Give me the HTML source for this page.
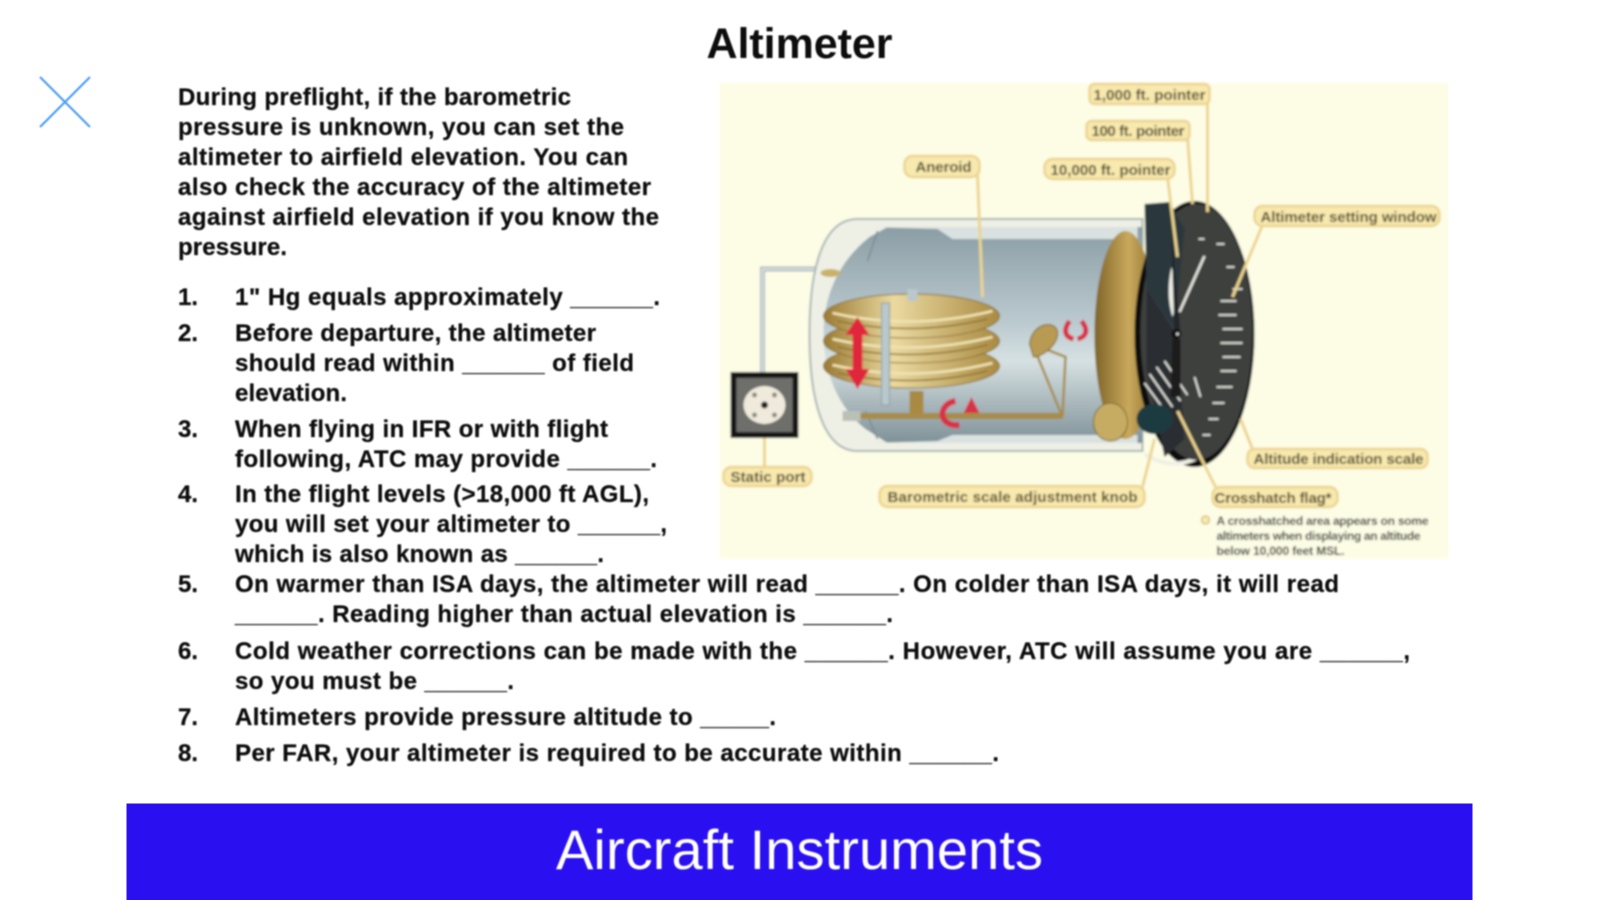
<!DOCTYPE html>
<html><head><meta charset="utf-8"><title>Altimeter</title>
<style>html,body{margin:0;padding:0;background:#fff;width:1599px;height:900px;overflow:hidden}svg{display:block}
.t text{font-family:"Liberation Sans",sans-serif;font-weight:bold;font-size:24px;fill:#0c0c0c;stroke:#0c0c0c;stroke-width:.25}
.l{fill:#f8e9ae;stroke:#ecd48e;stroke-width:2.5}
.lt{font-family:"Liberation Sans",sans-serif;font-size:15px;fill:#4c4226;font-weight:bold}
.ld{fill:none;stroke:#ecd48e;stroke-width:3}
</style></head><body>
<svg width="1599" height="900" viewBox="0 0 1599 900" xmlns="http://www.w3.org/2000/svg">
<defs>
<filter id="b" x="-5%" y="-5%" width="110%" height="110%"><feGaussianBlur stdDeviation="0.9"/></filter>
<filter id="b2" x="-5%" y="-5%" width="110%" height="110%"><feGaussianBlur stdDeviation="1.1"/></filter>
<linearGradient id="cyl" x1="0" y1="0" x2="0" y2="1"><stop offset="0" stop-color="#8b9da5"/><stop offset=".45" stop-color="#bccbd0"/><stop offset=".62" stop-color="#d6e1e2"/><stop offset="1" stop-color="#7f9198"/></linearGradient>
<linearGradient id="gold" x1="0" y1="0" x2="1" y2="0"><stop offset="0" stop-color="#9a7a32"/><stop offset=".4" stop-color="#ead9a0"/><stop offset="1" stop-color="#a98a42"/></linearGradient>
<linearGradient id="disk" x1="0" y1="0" x2="1" y2="0"><stop offset="0" stop-color="#7e6428"/><stop offset=".55" stop-color="#c9a95c"/><stop offset="1" stop-color="#8a6e2e"/></linearGradient>
</defs>

<g filter="url(#b)">
<text x="706.5" y="58" font-family="Liberation Sans" font-weight="bold" font-size="43" fill="#111" textLength="186">Altimeter</text>
<path d="M40 77L90 127M90 77L40 127" stroke="#4a9bf5" stroke-width="2" fill="none"/>
</g>

<g class="t" filter="url(#b)" transform="translate(-1,0)">
<text x="179" y="105" textLength="393">During preflight, if the barometric</text>
<text x="179" y="135" textLength="446">pressure is unknown, you can set the</text>
<text x="179" y="165" textLength="450">altimeter to airfield elevation. You can</text>
<text x="179" y="195" textLength="473">also check the accuracy of the altimeter</text>
<text x="179" y="225" textLength="481">against airfield elevation if you know the</text>
<text x="179" y="255" textLength="109">pressure.</text>

<text x="179" y="305">1.</text><text x="236" y="305" textLength="425">1&quot; Hg equals approximately ______.</text>
<text x="179" y="341">2.</text><text x="236" y="341" textLength="361">Before departure, the altimeter</text>
<text x="236" y="371" textLength="399">should read within ______ of field</text>
<text x="236" y="401" textLength="112">elevation.</text>
<text x="179" y="437">3.</text><text x="236" y="437" textLength="373">When flying in IFR or with flight</text>
<text x="236" y="467" textLength="422">following, ATC may provide ______.</text>
<text x="179" y="502">4.</text><text x="236" y="502" textLength="414">In the flight levels (&gt;18,000 ft AGL),</text>
<text x="236" y="532" textLength="432">you will set your altimeter to ______,</text>
<text x="236" y="562" textLength="369">which is also known as ______.</text>
<text x="179" y="592">5.</text><text x="236" y="592" textLength="1104">On warmer than ISA days, the altimeter will read ______. On colder than ISA days, it will read</text>
<text x="236" y="622" textLength="658">______. Reading higher than actual elevation is ______.</text>
<text x="179" y="659">6.</text><text x="236" y="659" textLength="1175">Cold weather corrections can be made with the ______. However, ATC will assume you are ______,</text>
<text x="236" y="689" textLength="279">so you must be ______.</text>
<text x="179" y="725">7.</text><text x="236" y="725" textLength="541">Altimeters provide pressure altitude to _____.</text>
<text x="179" y="761">8.</text><text x="236" y="761" textLength="764">Per FAR, your altimeter is required to be accurate within ______.</text>
</g>

<rect x="126.5" y="803.5" width="1346" height="96.5" fill="#2a0ff0"/>
<text x="556" y="869" font-family="Liberation Sans" font-size="56" fill="#fff" textLength="487" filter="url(#b)">Aircraft Instruments</text>

<g filter="url(#b2)" transform="translate(-2.5,-1)">
<rect x="722" y="84" width="729" height="476" fill="#fdfde6"/>

<!-- pipe -->
<path d="M765 375V270H818" fill="none" stroke="#a9b9bc" stroke-width="5"/>
<path d="M765 375V270H818" fill="none" stroke="#e6eced" stroke-width="1.5"/>

<!-- cylinder -->
<path d="M1145 220H860C828 220 812 262 812 335S828 452 860 452H1145Z" fill="#eef0e6" stroke="#a8b4b0" stroke-width="2"/>
<path d="M1145 228H890L872 238C842 262 826 295 826 335S842 410 868 430L890 444H1145Z" fill="url(#cyl)"/>
<path d="M868 228H1140V240H955L940 230ZM868 444H1140V436H955L940 442Z" fill="#d9e2e0"/>
<path d="M880 232L870 262M880 440L868 412" stroke="#7c8d92" stroke-width="1.5" fill="none"/>
<ellipse cx="833" cy="274" rx="10" ry="4" fill="#c8b26a"/>

<!-- aneroid -->
<g stroke="#8a6f30" stroke-width="1">
<ellipse cx="914" cy="367" rx="88" ry="22" fill="url(#gold)"/>
<ellipse cx="914" cy="342" rx="88" ry="22" fill="url(#gold)"/>
<ellipse cx="914" cy="317" rx="88" ry="22" fill="url(#gold)"/>
</g>
<g fill="none" stroke="#f0e4b4" stroke-width="2.5"><path d="M835 314Q914 332 995 312M835 340Q914 358 995 338M835 366Q914 384 995 364"/></g>
<g fill="none" stroke="#8f7434" stroke-width="1.5"><path d="M840 322Q914 338 990 320M840 348Q914 364 990 346M840 374Q914 390 990 372"/></g>
<rect x="884" y="304" width="8" height="102" fill="#b9c8cc" stroke="#8d9da1"/>
<rect x="912" y="392" width="14" height="22" fill="#a98a42"/>
<rect x="910" y="290" width="10" height="12" fill="#b9c8cc"/>
<path d="M860 318L848 336H855V370H848L860 390L872 370H865V336H872Z" fill="#e0263e"/>

<!-- rod & mechanism -->
<rect x="845" y="414" width="220" height="6" fill="#a88c46"/>
<rect x="845" y="412" width="18" height="10" fill="#b9c0b8"/>
<path d="M1035 345L1065 418L1068 358Z" stroke="#a88c46" stroke-width="2.5" fill="none"/>
<path d="M1032 345C1034 325 1056 320 1060 332C1062 345 1045 358 1036 358Z" fill="#b89a52" stroke="#7d6428"/>

<!-- red arrows -->
<path d="M958 402C940 405 940 428 962 426" fill="none" stroke="#d8324a" stroke-width="6"/>
<path d="M974 398L982 414H966Z" fill="#d8324a"/>
<path d="M1072 322C1065 332 1068 338 1076 340M1084 322C1092 332 1088 338 1080 340" fill="none" stroke="#d8324a" stroke-width="5"/>

<!-- gold disk -->
<ellipse cx="1128" cy="336" rx="31" ry="104" fill="url(#disk)"/>
<ellipse cx="1146" cy="336" rx="8" ry="38" fill="#eef2ee"/>

<ellipse cx="1113" cy="423" rx="17" ry="19" fill="#c6ac62" stroke="#7d6428"/>

<!-- dial -->
<g transform="translate(-3,0)">
<ellipse cx="1200" cy="335" rx="60" ry="133" fill="#111"/>
<path d="M1150 455Q1190 480 1225 440" stroke="#f0f0e6" stroke-width="4" fill="none"/>
<ellipse cx="1202" cy="333" rx="56" ry="128" fill="#3e3f3e"/>
<path d="M1150 205L1175 203L1190 230L1180 330L1152 290Z" fill="#2b383c"/>
<path d="M1152 290L1182 335L1190 440L1170 458L1152 370Z" fill="#2a2f30"/>
<g stroke="#e8e8e0" stroke-width="1.8" fill="none">
<path d="M1210 257L1185 313" stroke-width="2.5"/>
<path d="M1155 375L1178 408M1162 368L1186 402M1170 362L1193 396M1150 384L1172 414"/>
<path d="M1222 245h8M1232 268h8M1238 290h10M1226 302h16M1224 316h18M1228 330h20M1226 344h22M1228 358h18M1226 372h16M1222 388h16M1218 404h12M1214 420h10M1208 436h8M1204 240h6"/>
<path d="M1200 378L1206 398"/>
</g>
<path d="M1177 268Q1171 295 1178 318Q1186 295 1177 268Z" fill="#eef0e8"/>
<path d="M1176 215L1180 335L1186 335Z" fill="#23282a"/>
<path d="M1178 340L1176 398L1186 398L1186 340Z" fill="#1b1d1d"/>
<circle cx="1182" cy="335" r="5" fill="#111"/><circle cx="1183" cy="335" r="1.5" fill="#ddd"/>
<ellipse cx="1160" cy="420" rx="18" ry="15" fill="#1f3a40"/>
</g>

<!-- static port -->
<rect x="733" y="373" width="68" height="66" fill="#151515"/>
<rect x="739" y="379" width="56" height="54" fill="#6e6e6a"/>
<ellipse cx="767" cy="406" rx="21" ry="19" fill="#efeadb"/>
<circle cx="767" cy="406" r="3.5" fill="#222"/>
<g fill="#8e8a7c"><circle cx="757" cy="396" r="2.5"/><circle cx="777" cy="396" r="2.5"/><circle cx="757" cy="416" r="2.5"/><circle cx="777" cy="416" r="2.5"/></g>

<!-- leaders -->
<path class="ld" d="M1210 100V213M1190 138L1195 205M1170 178L1180 258M980 176L985 298M1265 226L1235 298M1255 450L1243 420M1218 488L1205 462L1180 412M1145 488L1157 440M767 468V439"/>

<!-- labels -->
<rect class="l" x="1092" y="85" width="120" height="20" rx="5"/><text class="lt" x="1096" y="101" textLength="112">1,000 ft. pointer</text>
<rect class="l" x="1089" y="122" width="103" height="19" rx="5"/><text class="lt" x="1094" y="137" textLength="93">100 ft. pointer</text>
<rect class="l" x="1047" y="160" width="130" height="20" rx="8"/><text class="lt" x="1053" y="176" textLength="120">10,000 ft. pointer</text>
<rect class="l" x="907" y="157" width="75" height="21" rx="8"/><text class="lt" x="918" y="173" textLength="56">Aneroid</text>
<rect class="l" x="1257" y="207" width="185" height="20" rx="8"/><text class="lt" x="1263" y="223" textLength="176">Altimeter setting window</text>
<rect class="l" x="1250" y="450" width="180" height="19" rx="7"/><text class="lt" x="1256" y="465" textLength="170">Altitude indication scale</text>
<rect class="l" x="1215" y="488" width="125" height="20" rx="8"/><text class="lt" x="1217" y="504" textLength="117">Crosshatch flag*</text>
<rect class="l" x="882" y="487" width="265" height="21" rx="8"/><text class="lt" x="890" y="503" textLength="250">Barometric scale adjustment knob</text>
<rect class="l" x="726" y="468" width="88" height="19" rx="8"/><text class="lt" x="733" y="483" textLength="75">Static port</text>

<circle cx="1208" cy="521" r="4" fill="#f8e9ae" stroke="#d8c47c" stroke-width="1.5"/>
<g font-family="Liberation Sans" font-size="12" font-weight="bold" fill="#2a2a2a">
<text x="1219" y="526" textLength="212">A crosshatched area appears on some</text>
<text x="1219" y="541" textLength="204">altimeters when displaying an altitude</text>
<text x="1219" y="556" textLength="128">below 10,000 feet MSL.</text>
</g>
</g>
</svg>
</body></html>
